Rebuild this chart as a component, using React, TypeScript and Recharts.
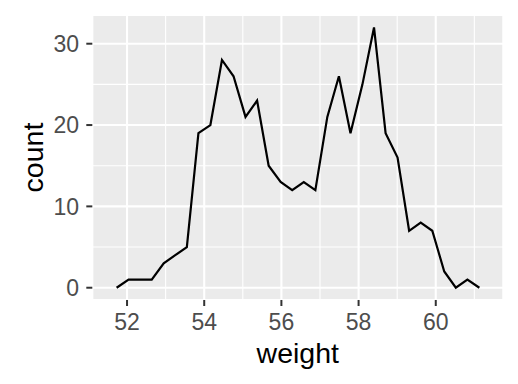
import React from "react";
import {
  ComposedChart,
  Line,
  XAxis,
  YAxis,
  CartesianGrid,
  ReferenceLine,
  Label,
} from "recharts";

// bin centres (weight) and counts
const weights = [
  51.73, 52.04, 52.34, 52.64, 52.95, 53.25, 53.55, 53.85, 54.16, 54.46, 54.76,
  55.07, 55.37, 55.67, 55.98, 56.28, 56.58, 56.88, 57.19, 57.49, 57.79, 58.1,
  58.4, 58.7, 59.01, 59.31, 59.61, 59.91, 60.22, 60.52, 60.82, 61.13,
];
const counts = [
  0, 1, 1, 1, 3, 4, 5, 19, 20, 28, 26, 21, 23, 15, 13, 12, 13, 12, 21, 26, 19,
  25, 32, 19, 16, 7, 8, 7, 2, 0, 1, 0,
];
const xTicks = [52, 54, 56, 58, 60];
const xMinor = [53, 55, 57, 59, 61];
const yTicks = [0, 10, 20, 30];
const yMinor = [5, 15, 25];

const data = weights.map((w, i) => ({ weight: w, count: counts[i] }));

const FONT = "'Liberation Sans', Arial, Helvetica, sans-serif";
const TICK_SIZE = 23;
const TITLE_SIZE = 28.5;

const XTitle = (props: any) => {
  const vb = props.viewBox;
  return (
    <text
      x={vb.x + vb.width / 2}
      y={vb.y + 63}
      textAnchor="middle"
      fontSize={TITLE_SIZE}
      fontFamily={FONT}
      fill="#000000"
    >
      weight
    </text>
  );
};

const YTitle = (props: any) => {
  const vb = props.viewBox;
  const cx = 43;
  const cy = vb.y + vb.height / 2;
  return (
    <text
      x={cx}
      y={cy}
      textAnchor="middle"
      fontSize={TITLE_SIZE}
      fontFamily={FONT}
      fill="#000000"
      transform={`rotate(-90, ${cx}, ${cy})`}
    >
      count
    </text>
  );
};

export default function App() {
  return (
    <div style={{ position: "absolute", left: 0, top: 0, background: "#fff" }}>
      <ComposedChart
        width={518}
        height={384}
        data={data}
        margin={{ top: 15, right: 14.7, bottom: 0, left: 0 }}
      >
        <CartesianGrid
          fill="#EBEBEB"
          stroke="#FFFFFF"
          strokeWidth={2.1}
          strokeDasharray=""
        />
        {xMinor.map((v) => (
          <ReferenceLine
            key={"xm" + v}
            x={v}
            stroke="#FFFFFF"
            strokeWidth={1.1}
            ifOverflow="hidden"
          />
        ))}
        {yMinor.map((v) => (
          <ReferenceLine
            key={"ym" + v}
            y={v}
            stroke="#FFFFFF"
            strokeWidth={1.1}
            ifOverflow="hidden"
          />
        ))}
        <XAxis
          dataKey="weight"
          type="number"
          domain={[51.1, 61.75]}
          ticks={xTicks}
          allowDataOverflow
          height={84}
          axisLine={false}
          tickSize={6}
          tickMargin={8}
          tickLine={{ stroke: "#333333", strokeWidth: 2 }}
          tick={{ fill: "#4D4D4D", fontSize: TICK_SIZE, fontFamily: FONT }}
          interval={0}
        >
          <Label content={XTitle} />
        </XAxis>
        <YAxis
          type="number"
          domain={[-1.51, 33.53]}
          ticks={yTicks}
          allowDataOverflow
          width={92.3}
          axisLine={false}
          tickSize={6}
          tickMargin={7.3}
          tickLine={{ stroke: "#333333", strokeWidth: 2 }}
          tick={{ fill: "#4D4D4D", fontSize: TICK_SIZE, fontFamily: FONT }}
          interval={0}
        >
          <Label content={YTitle} />
        </YAxis>
        <Line
          dataKey="count"
          type="linear"
          stroke="#000000"
          strokeWidth={2.2}
          dot={false}
          activeDot={false}
          isAnimationActive={false}
        />
      </ComposedChart>
    </div>
  );
}
